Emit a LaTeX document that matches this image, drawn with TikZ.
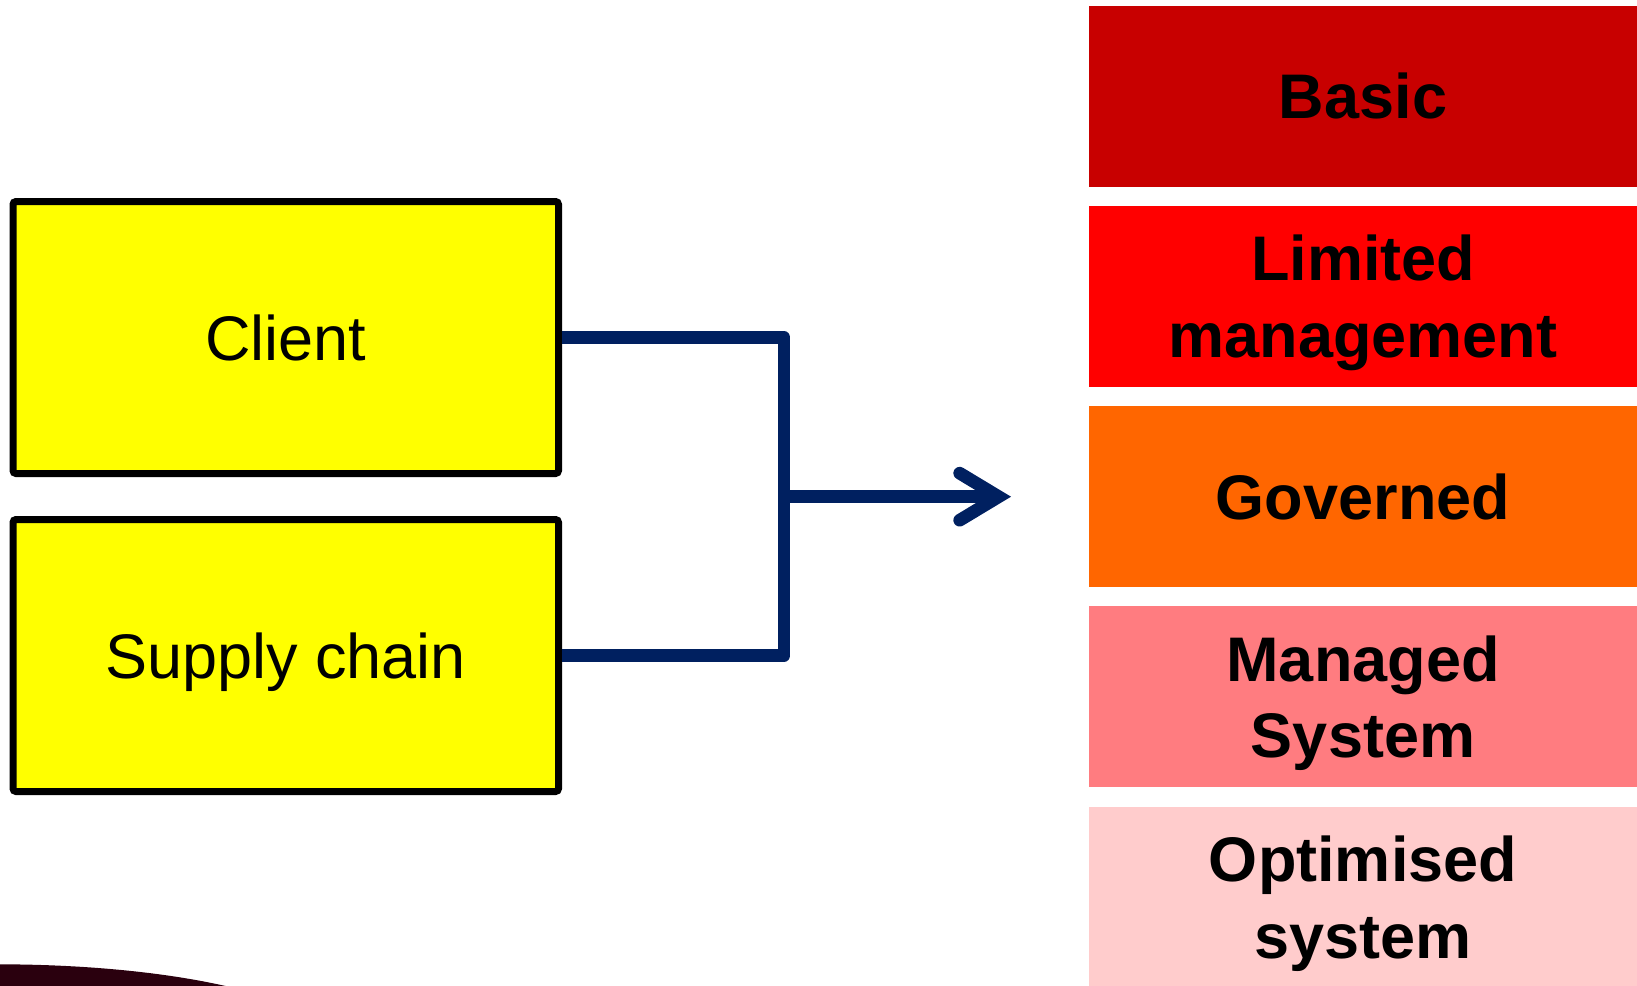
\documentclass[tikz,border=0pt]{standalone}
\usepackage{fontspec}
\setmainfont{Liberation Sans}
\usetikzlibrary{arrows.meta, positioning}
\definecolor{LinkBlue}{RGB}{0, 32, 96}
\definecolor{BoxYellow}{RGB}{255, 255, 0}
\definecolor{LevelBasic}{RGB}{200, 0, 0}
\definecolor{LevelLimited}{RGB}{255, 0, 0}
\definecolor{LevelGoverned}{RGB}{255, 102, 0}
\definecolor{LevelManaged}{RGB}{255, 124, 128}
\definecolor{LevelOptimised}{RGB}{255, 204, 204}
\definecolor{SlideMaroon}{RGB}{42, 0, 14}

\begin{document}
\begin{tikzpicture}[x=0.5pt, y=-0.5pt,
    inputbox/.style={draw=black, fill=BoxYellow, line width=3.5pt, rounded corners=1.5pt,
        minimum width=272.75pt, minimum height=136pt, inner sep=0pt, text depth=0pt,
        font=\fontsize{31.5}{38}\selectfont},
    levelbox/.style={fill=#1, minimum width=274pt, minimum height=90.5pt, inner sep=0pt,
        text depth=0pt, align=center, font=\fontsize{31.5}{38.3}\selectfont\bfseries},
    link/.style={draw=LinkBlue, line width=6.35pt, line join=round}]
    \useasboundingbox (0,0) rectangle (1637,985);

    % Slide decoration in the corner
    \fill[SlideMaroon] (0,964.3) .. controls (90,964.5) and (170,973) .. (230,987)
        -- (0,987) -- cycle;

    % Input boxes
    \node[inputbox] (client) at (285.75,337.5) {Client};
    \node[inputbox, below=19.5pt of client] (supply) {Supply chain};

    % Maturity levels
    \foreach \name/\col/\txt/\y in {basic/LevelBasic/Basic/96,
            limited/LevelLimited/{Limited\\management}/296.25,
            governed/LevelGoverned/Governed/496.5,
            managed/LevelManaged/{Managed\\System}/696.75,
            optimised/LevelOptimised/{Optimised\\system}/897} {
        \node[levelbox=\col] (\name) at (1363,\y) {\txt};
    }

    % Joining connector and arrow
    \coordinate (bend) at (784,496.7);
    \coordinate (tip) at (1011,496.7);
    \draw[link] (client.east) -| (bend) |- (supply.east);
    \draw[link, -{Straight Barb[length=19.5pt, width=23.5pt, line cap=round]}] (bend) -- (tip);
\end{tikzpicture}
\end{document}
